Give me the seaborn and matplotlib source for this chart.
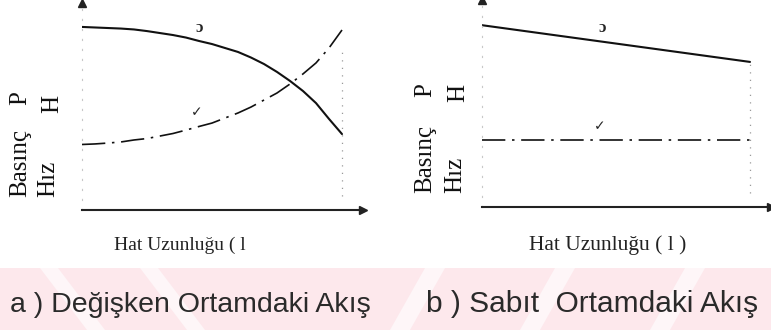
import matplotlib
matplotlib.use("Agg")
import matplotlib.pyplot as plt
from matplotlib.patches import Polygon, Rectangle
import seaborn as sns
import pandas as pd

# a) değişken ortam: hat uzunluğu boyunca basınç (P) ve hız (H), göreli birimler
uzunluk_a = [0, 0.5, 1, 1.5, 2, 2.5, 3, 3.5, 4, 4.5, 5,
             5.5, 6, 6.5, 7, 7.5, 8, 8.5, 9, 9.5, 10]
basinc_a = [10.17, 10.14, 10.11, 10.08, 10.03, 9.94, 9.83, 9.72, 9.58, 9.39, 9.22,
            9.0, 8.78, 8.47, 8.11, 7.67, 7.17, 6.61, 5.94, 5.06, 4.22]
hiz_a = [3.64, 3.67, 3.72, 3.78, 3.89, 3.97, 4.11, 4.25, 4.44, 4.64, 4.83,
         5.11, 5.39, 5.72, 6.11, 6.5, 7.0, 7.56, 8.17, 9.0, 10.0]

# b) sabit ortam
uzunluk_b = [0, 10]
basinc_b = [10.1, 8.06]
hiz_b = [3.72, 3.72]

xlabels = ["Hat Uzunluğu ( l", "Hat Uzunluğu ( l )"]
captions = ["a ) Değişken Ortamdaki Akış", "b ) Sabıt  Ortamdaki Akış"]

sns.set_style("white")
plt.rcParams["font.family"] = ["Liberation Serif", "DejaVu Serif"]

fig = plt.figure(figsize=(7.71, 3.30), dpi=100)

# alttaki pembe filigran
W, H = 771.0, 330.0
def fx(p):
    return p / W
def fy(p):
    return 1 - p / H

fig.patches.append(Rectangle((0, 0), 1, fy(268), transform=fig.transFigure,
                             facecolor="#fde8ec", edgecolor="none", zorder=0))
gaps = [
    [(40, 268), (58, 268), (105, 330), (87, 330)],
    [(140, 268), (158, 268), (205, 330), (187, 330)],
    [(425, 268), (445, 268), (410, 330), (390, 330)],
    [(555, 268), (575, 268), (540, 330), (520, 330)],
    [(685, 268), (705, 268), (670, 330), (650, 330)],
]
for g in gaps:
    fig.patches.append(Polygon([(fx(a), fy(b)) for a, b in g], closed=True,
                               transform=fig.transFigure, facecolor="#fef6f8",
                               edgecolor="none", zorder=0))

ax1 = fig.add_axes([fx(82), fy(210), fx(10.8 * 26), 11.5 * 18 / H])
ax2 = fig.add_axes([fx(482), fy(207), fx(10.8 * 26.8), 11.5 * 18 / H])

df_a = pd.DataFrame({"L": uzunluk_a, "P": basinc_a, "H": hiz_a})
df_b = pd.DataFrame({"L": uzunluk_b, "P": basinc_b, "H": hiz_b})

for ax, df, top in [(ax1, df_a, 8.8), (ax2, df_b, 8.06)]:
    ax.patch.set_alpha(0)
    sns.lineplot(data=df, x="L", y="P", ax=ax, color="#111111", lw=1.5)
    sns.lineplot(data=df, x="L", y="H", ax=ax, color="#111111", lw=1.2,
                 linestyle=(0, (14, 4, 1.5, 4)))
    ax.set_xlim(0, 10.8)
    ax.set_ylim(0, 11.5)
    ax.set_xticks([])
    ax.set_yticks([])
    ax.set_xlabel("")
    ax.set_ylabel("")
    for s in ["top", "right"]:
        ax.spines[s].set_visible(False)
    ax.spines["bottom"].set_color("#222222")
    ax.spines["bottom"].set_linewidth(1.5)
    ax.spines["left"].set_color("#c8c8c8")
    ax.spines["left"].set_linestyle((0, (1, 8)))
    ax.spines["left"].set_linewidth(0.8)
    # eksen okları
    ax.plot(1.0, 0, marker=">", ms=6, color="#222222", transform=ax.transAxes, clip_on=False)
    ax.plot(0, 1.0, marker="^", ms=6, color="#222222", transform=ax.transAxes, clip_on=False)
    # uç noktadaki noktalı dikey çizgi
    ax.vlines(10, 0.8, top, color="#9a9a9a", linestyles=(0, (1, 5)), lw=0.9)

ax1.text(4.5, 10.1, "ɔ", fontsize=12, weight="bold", ha="center", va="center")
ax1.text(4.4, 5.45, "✓", fontsize=10, weight="bold", ha="center", va="center",
         family="DejaVu Sans")
ax2.text(4.5, 9.95, "ɔ", fontsize=12, weight="bold", ha="center", va="center")
ax2.text(4.4, 4.5, "✓", fontsize=10, weight="bold", ha="center", va="center",
         family="DejaVu Sans")

# dikey eksen yazıları (Basınç P, Hız H)
ylab = [("Basınç", 20, 197, "bottom"), ("P", 20, 98, "center"),
        ("Hız", 48, 197, "bottom"), ("H", 52, 104, "center"),
        ("Basınç", 425, 193, "bottom"), ("P", 425, 90, "center"),
        ("Hız", 455, 193, "bottom"), ("H", 458, 93, "center")]
for t, x, y, va in ylab:
    fig.text(fx(x), fy(y), t, rotation=90, ha="center", va=va,
             fontsize=18, color="#111111")

fig.text(fx(180), fy(250), xlabels[0], ha="center", va="baseline",
         fontsize=14, color="#222222")
fig.text(fx(608), fy(250), xlabels[1], ha="center", va="baseline",
         fontsize=15.5, color="#222222")

fig.text(fx(190), fy(312), captions[0], ha="center", va="baseline", fontsize=20.5,
         family="Liberation Sans", color="#2a2a2a")
fig.text(fx(592), fy(312), captions[1], ha="center", va="baseline", fontsize=21.5,
         family="Liberation Sans", color="#2a2a2a")

fig.savefig("out.png", dpi=100)
